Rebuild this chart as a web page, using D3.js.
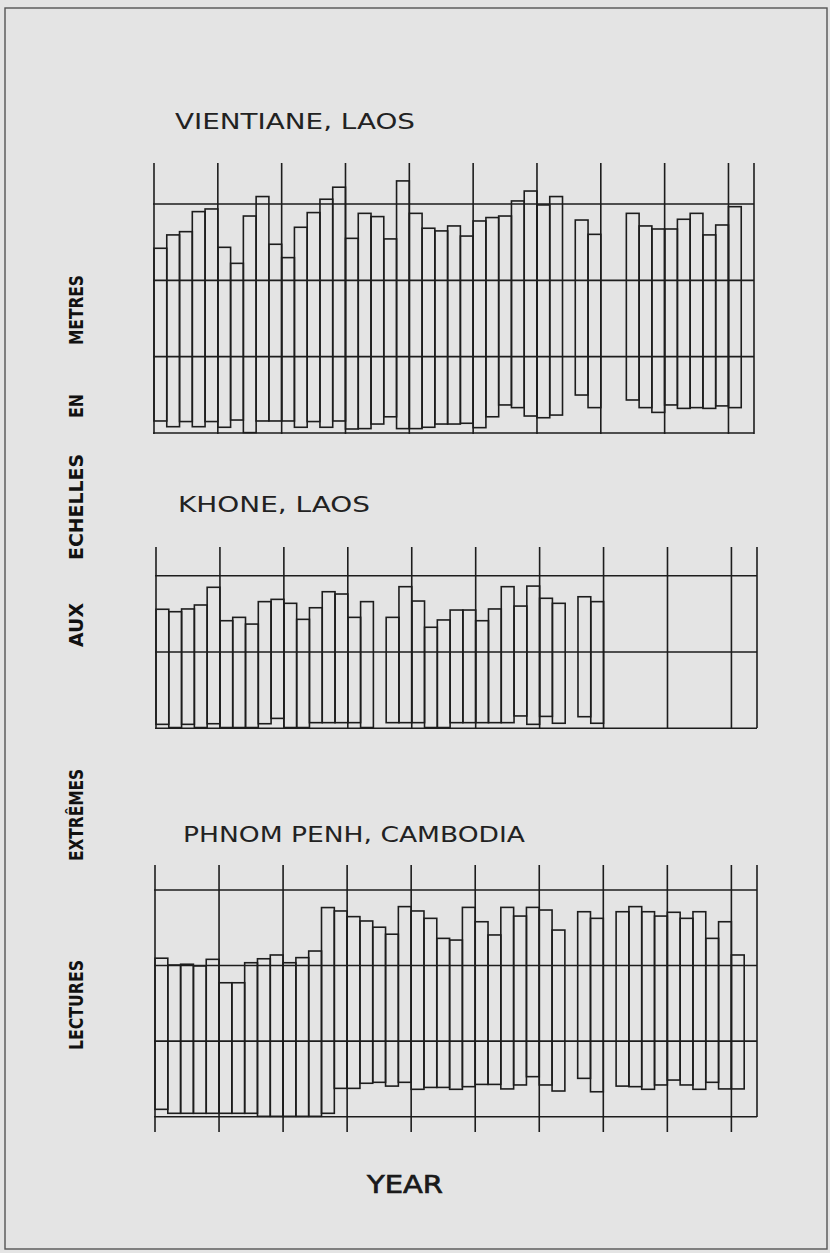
<!DOCTYPE html>
<html>
<head>
<meta charset="utf-8">
<script src="https://cdn.jsdelivr.net/npm/d3@7"></script>
<style>
  html, body { margin: 0; padding: 0; background: #e4e4e4; }
  svg { display: block; }
</style>
</head>
<body>
<svg id="chart" width="830" height="1253"></svg>
<script>
// Annual extreme gauge readings in metres, one slot per year (null = no record).
const vientianeHigh = [9.68, 10.38, 10.55, 11.60, 11.74, 9.73, 8.89, 11.37, 12.39, 9.89,
  9.19, 10.78, 11.55, 12.25, 12.88, 10.20, 11.51, 11.34, 10.17, 13.21,
  11.51, 10.73, 10.59, 10.85, 10.32, 11.11, 11.29, 11.37, 12.16, 12.68,
  11.95, 12.39, null, 11.16, 10.41, null, null, 11.51, 10.85, 10.69,
  10.69, 11.20, 11.51, 10.38, 10.90, 11.86, null];
const vientianeLow = [0.63, 0.33, 0.60, 0.33, 0.60, 0.30, 0.68, 0.02, 0.63, 0.63,
  0.63, 0.30, 0.60, 0.30, 0.63, 0.21, 0.23, 0.47, 0.85, 0.23,
  0.23, 0.30, 0.47, 0.47, 0.51, 0.28, 0.85, 1.47, 1.33, 0.89,
  0.80, 0.94, null, 1.99, 1.33, null, null, 1.73, 1.33, 1.08,
  1.47, 1.29, 1.33, 1.29, 1.42, 1.33, null];

const khoneHigh = [7.80, 7.64, 7.82, 8.08, 9.24, 7.05, 7.27, 6.83, 8.30, 8.45,
  8.19, 7.14, 7.90, 8.95, 8.80, 7.27, 8.30, null, 7.27, 9.28,
  8.34, 6.62, 7.10, 7.75, 7.75, 7.05, 7.82, 9.28, 8.01, 9.32,
  8.52, 8.19, null, 8.62, 8.30, null, null, null, null, null,
  null, null, null, null, null, null, null];
const khoneLow = [0.26, 0.05, 0.26, 0.05, 0.30, 0.05, 0.05, 0.05, 0.30, 0.65,
  0.05, 0.05, 0.37, 0.37, 0.37, 0.37, 0.05, null, 0.37, 0.37,
  0.37, 0.05, 0.05, 0.37, 0.37, 0.37, 0.37, 0.37, 0.81, 0.26,
  0.78, 0.33, null, 0.76, 0.33, null, null, null, null, null,
  null, null, null, null, null, null, null];

const phnomPenhHigh = [8.39, 8.03, 8.07, 7.98, 8.33, 7.09, 7.09, 8.15, 8.36, 8.56,
  8.15, 8.42, 8.77, 11.07, 10.89, 10.59, 10.36, 10.03, 9.66, 11.12,
  10.89, 10.50, 9.44, 9.35, 11.08, 10.32, 9.62, 11.08, 10.62, 11.08,
  10.94, 9.88, null, 10.85, 10.50, null, 10.85, 11.12, 10.85, 10.62,
  10.82, 10.50, 10.85, 9.44, 10.32, 8.56, null];
const phnomPenhLow = [0.39, 0.18, 0.18, 0.18, 0.18, 0.18, 0.18, 0.18, 0.02, 0.02,
  0.02, 0.02, 0.02, 0.18, 1.50, 1.50, 1.77, 1.82, 1.62, 1.82,
  1.45, 1.55, 1.55, 1.45, 1.59, 1.71, 1.71, 1.47, 1.68, 2.12,
  1.68, 1.36, null, 2.03, 1.32, null, 1.62, 1.59, 1.45, 1.68,
  1.94, 1.68, 1.45, 1.82, 1.47, 1.47, null];

// Year slots ruled every five years, closed by the final edge
const yearTicks = [0, 5, 10, 15, 20, 25, 30, 35, 40, 45, 47];
const vientianeLevels = [0, 4, 8, 12];
const khoneLevels = [0, 5, 10];
const phnomPenhLevels = [0, 4, 8, 12];

const stationNames = ["VIENTIANE, LAOS", "KHONE, LAOS", "PHNOM PENH, CAMBODIA"];
const axisTitleWords = ["LECTURES", "EXTRÊMES", "AUX", "ECHELLES", "EN", "METRES"];
const xAxisTitle = "YEAR";

const INK = "#1d1d1d";
const svg = d3.select("#chart");

// page frame
svg.append("rect")
  .attr("x", 5).attr("y", 8).attr("width", 822).attr("height", 1241)
  .attr("fill", "none").attr("stroke", "#555").attr("stroke-width", 1.4);

const panels = [
  { name: stationNames[0], high: vientianeHigh, low: vientianeLow, levels: vientianeLevels,
    x0: 154, x1: 754, yBase: 433, yTopLevel: 204, ruleTop: 163, ruleBottom: 434, edgeBottom: 434,
    titleX: 175, titleY: 129, titleLen: 240 },
  { name: stationNames[1], high: khoneHigh, low: khoneLow, levels: khoneLevels,
    x0: 156, x1: 757, yBase: 728.3, yTopLevel: 575.7, ruleTop: 547, ruleBottom: 729, edgeBottom: 728,
    titleX: 178, titleY: 512, titleLen: 192 },
  { name: stationNames[2], high: phnomPenhHigh, low: phnomPenhLow, levels: phnomPenhLevels,
    x0: 155, x1: 757, yBase: 1116.7, yTopLevel: 890, ruleTop: 865, ruleBottom: 1132, edgeBottom: 1117,
    titleX: 183, titleY: 842, titleLen: 342 }
];

panels.forEach(p => {
  const n = p.high.length;
  const x = d3.scaleLinear().domain([0, n]).range([p.x0, p.x1]);
  const y = d3.scaleLinear()
    .domain([p.levels[0], p.levels[p.levels.length - 1]])
    .range([p.yBase, p.yTopLevel]);

  const g = svg.append("g");

  // horizontal rulings at each level
  g.selectAll("line.level").data(p.levels).join("line")
    .attr("x1", x(0) - 1).attr("x2", x(n))
    .attr("y1", d => y(d)).attr("y2", d => y(d))
    .attr("stroke", INK).attr("stroke-width", 1.6);

  // vertical year rulings
  g.selectAll("line.year").data(yearTicks).join("line")
    .attr("x1", d => x(d)).attr("x2", d => x(d))
    .attr("y1", p.ruleTop)
    .attr("y2", d => d === n ? p.edgeBottom : p.ruleBottom)
    .attr("stroke", INK).attr("stroke-width", 1.6);

  // one floating bar per year: lowest to highest reading
  const bars = p.high.map((h, i) => ({ i, h, l: p.low[i] })).filter(d => d.h !== null);
  g.selectAll("rect.bar").data(bars).join("rect")
    .attr("x", d => x(d.i))
    .attr("width", d => x(d.i + 1) - x(d.i))
    .attr("y", d => y(d.h))
    .attr("height", d => y(d.l) - y(d.h))
    .attr("fill", "none").attr("stroke", INK).attr("stroke-width", 1.6);

  // station title
  svg.append("text")
    .attr("x", p.titleX).attr("y", p.titleY)
    .attr("textLength", p.titleLen).attr("lengthAdjust", "spacingAndGlyphs")
    .attr("font-family", "DejaVu Sans").attr("font-size", 22)
    .attr("fill", "#222")
    .text(p.name);
});

// vertical axis title, word by word
const wordCentres = [1005, 815, 625, 507, 406, 310];
const wordLengths = [90, 92, 44, 106, 24, 70];
axisTitleWords.forEach((w, k) => {
  svg.append("text")
    .attr("transform", `translate(83,${wordCentres[k]}) rotate(-90)`)
    .attr("text-anchor", "middle")
    .attr("textLength", wordLengths[k]).attr("lengthAdjust", "spacingAndGlyphs")
    .attr("font-family", "DejaVu Sans").attr("font-weight", "bold").attr("font-size", 20)
    .attr("fill", "#111")
    .text(w);
});

// horizontal axis title
svg.append("text")
  .attr("x", 367).attr("y", 1193)
  .attr("textLength", 76).attr("lengthAdjust", "spacingAndGlyphs")
  .attr("font-family", "DejaVu Sans").attr("font-size", 25)
  .attr("fill", "#1a1a1a").attr("stroke", "#1a1a1a").attr("stroke-width", 0.7)
  .text(xAxisTitle);
</script>
</body>
</html>
